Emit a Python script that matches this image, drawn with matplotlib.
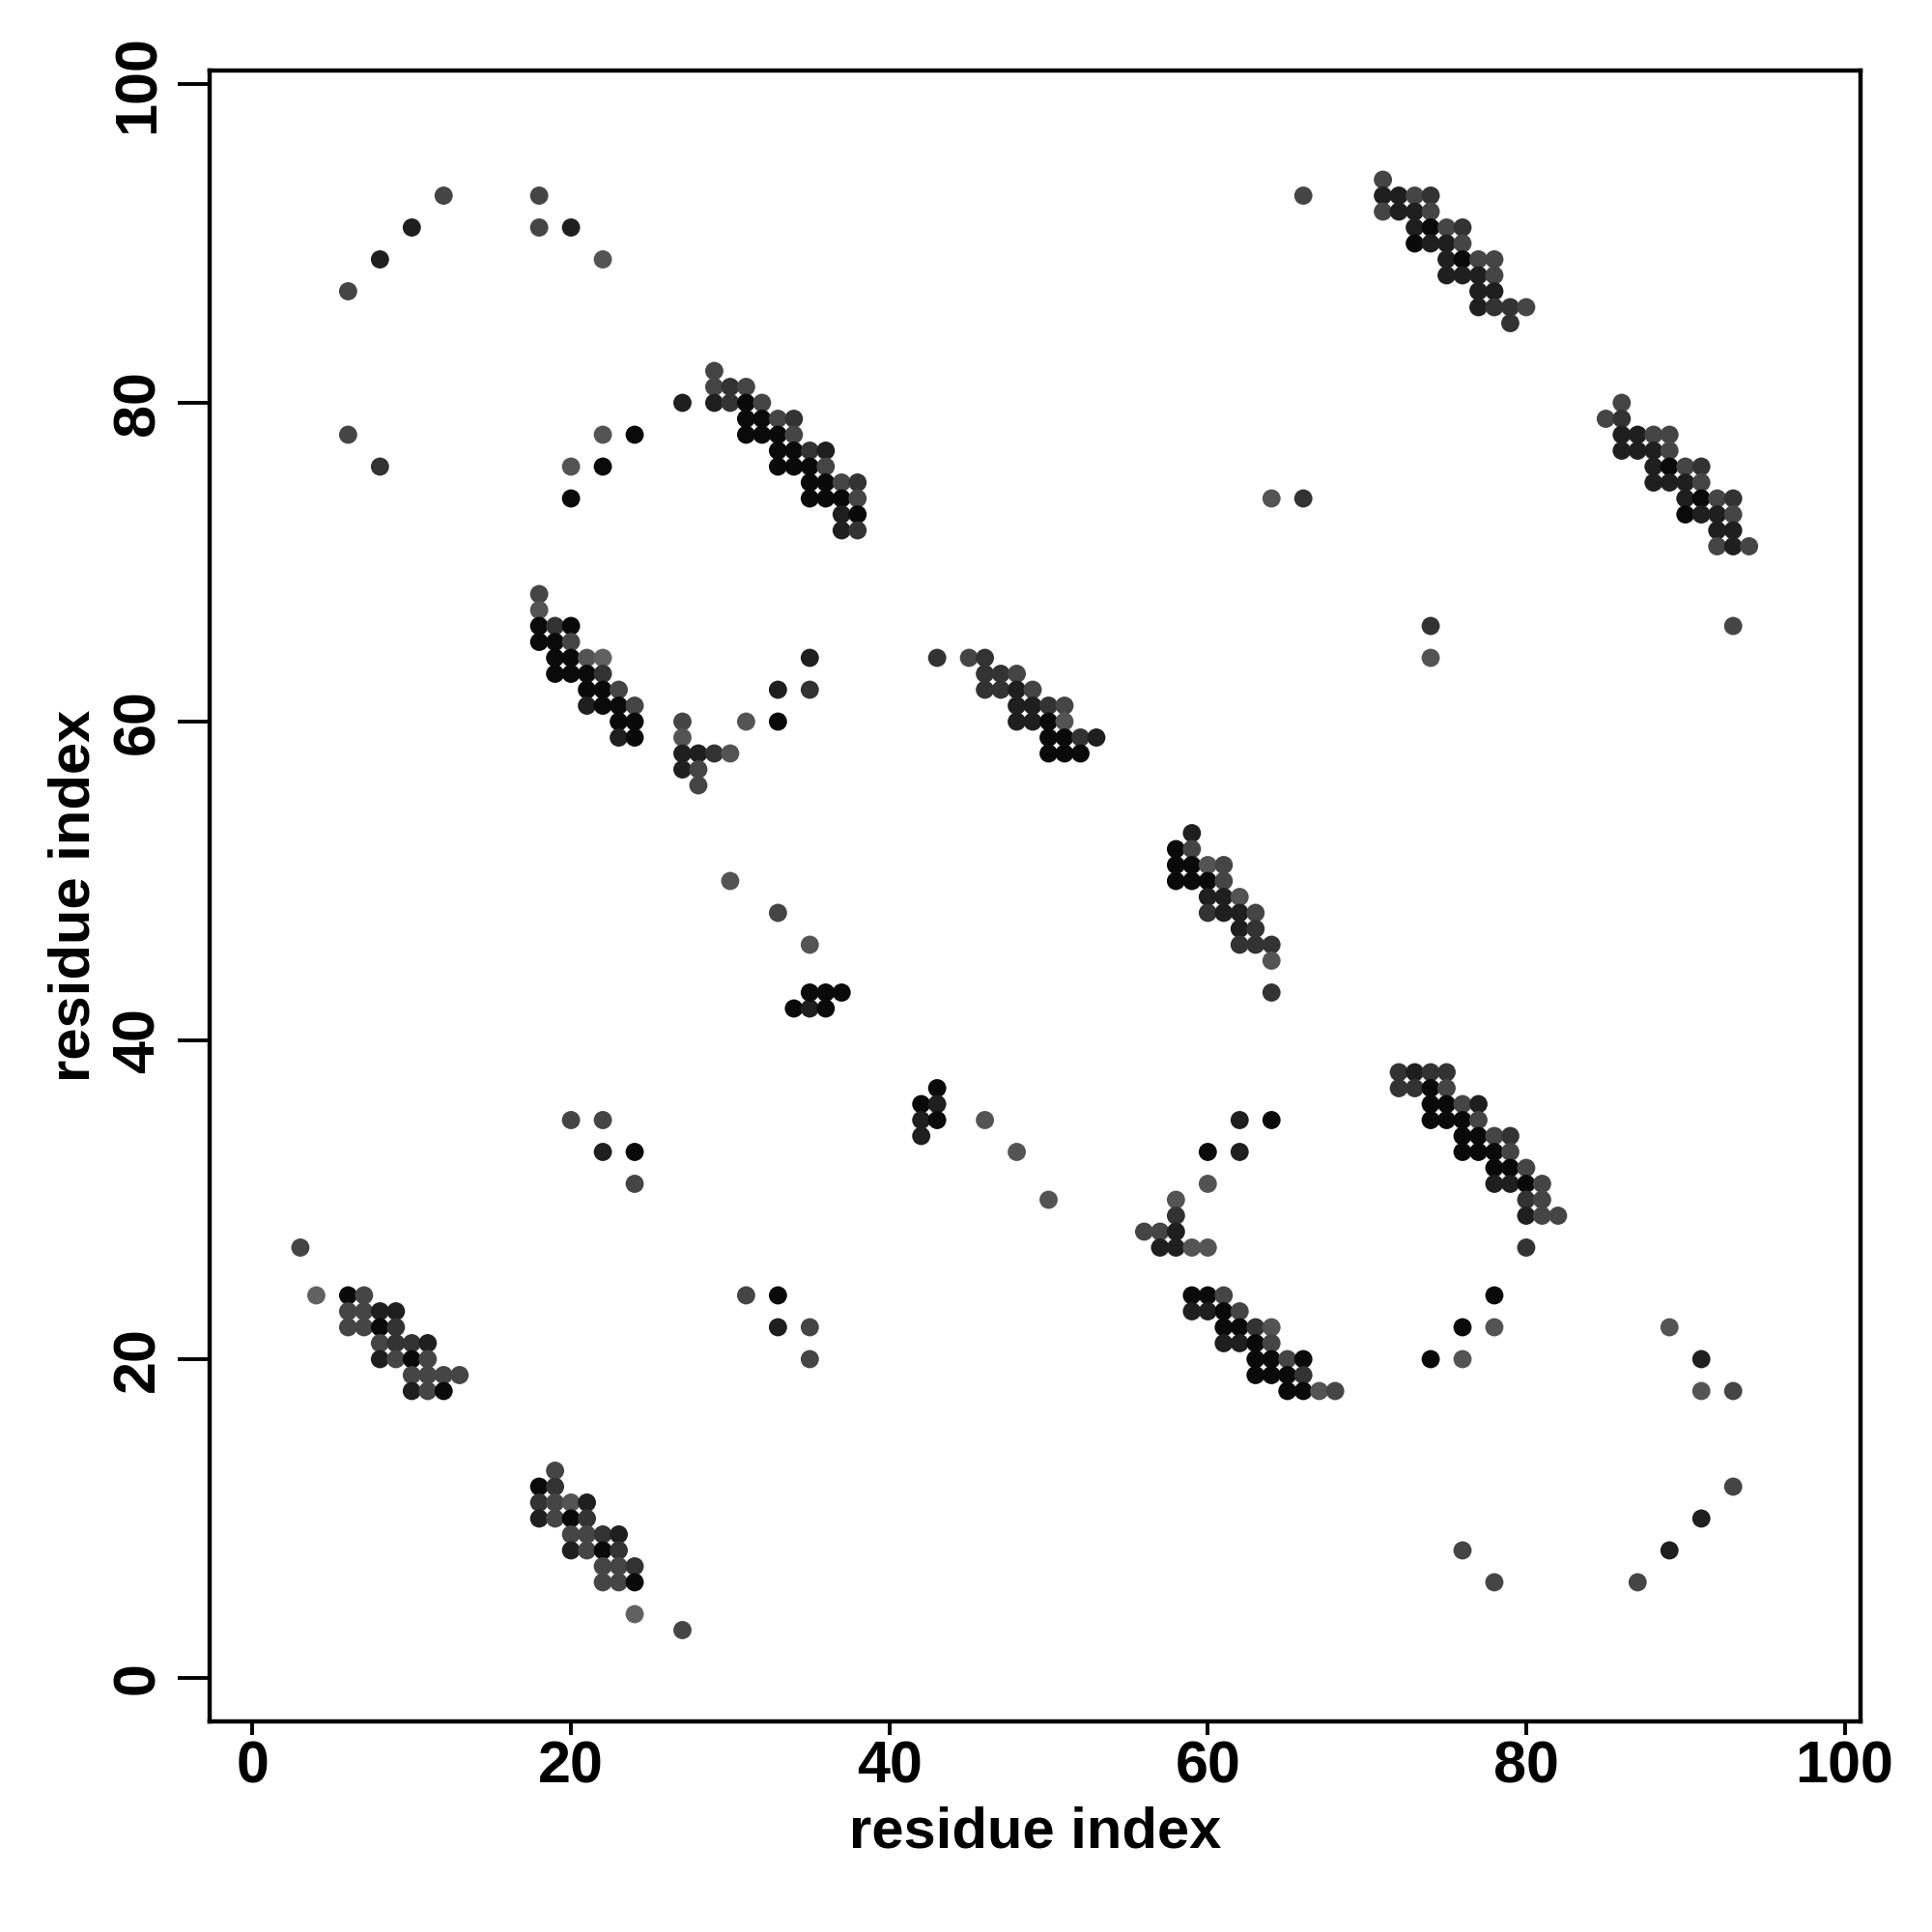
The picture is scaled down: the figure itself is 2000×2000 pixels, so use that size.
import matplotlib
matplotlib.use("Agg")
import matplotlib.pyplot as plt
import numpy as np

# shade codes -> gray level (0 = black)
SHADE = {"k": 0.04, "d": 0.12, "dm": 0.20, "m": 0.27, "ml": 0.33, "l": 0.38}

cluster_a = [(3,27,"m"),(4,24,"l"),(6,24,"k"),(7,24,"m"),(6,23,"m"),(7,23,"m"),(8,23,"d"),(9,23,"d"),
             (6,22,"m"),(7,22,"m"),(8,22,"k"),(9,22,"dm"),(8,21,"m"),(9,21,"dm"),(10,21,"dm"),(11,21,"d"),
             (8,20,"d"),(9,20,"m"),(10,20,"k"),(11,20,"m"),(10,19,"m"),(11,19,"m"),(12,19,"m"),(13,19,"m"),
             (10,18,"d"),(11,18,"m"),(12,18,"k")]
cluster_b = [(19,13,"m"),(18,12,"k"),(19,12,"dm"),(18,11,"dm"),(19,11,"m"),(20,11,"ml"),(21,11,"d"),
             (18,10,"d"),(19,10,"m"),(20,10,"k"),(21,10,"dm"),(20,9,"m"),(21,9,"m"),(22,9,"dm"),(23,9,"d"),
             (20,8,"d"),(21,8,"m"),(22,8,"k"),(23,8,"dm"),(22,7,"m"),(23,7,"m"),(24,7,"dm"),
             (22,6,"m"),(23,6,"m"),(24,6,"k"),(24,4,"l"),(27,3,"m")]
cluster_c = [(18,68,"m"),(18,67,"ml"),(18,66,"k"),(19,66,"dm"),(20,66,"k"),(18,65,"k"),(19,65,"k"),(20,65,"m"),
             (19,64,"k"),(20,64,"k"),(21,64,"ml"),(22,64,"l"),(19,63,"k"),(20,63,"k"),(21,63,"k"),(22,63,"dm"),
             (21,62,"k"),(22,62,"k"),(23,62,"m"),(21,61,"d"),(22,61,"k"),(23,61,"k"),(24,61,"m"),
             (23,60,"k"),(24,60,"k"),(23,59,"d"),(24,59,"k")]
cluster_d = [(27,60,"m"),(27,59,"ml"),(27,58,"d"),(28,58,"d"),(29,58,"dm"),(30,58,"ml"),(27,57,"d"),(28,57,"m"),
             (28,56,"m"),(31,60,"ml"),(33,60,"k"),(33,62,"d"),(35,62,"dm"),(35,64,"d")]
cluster_e = [(29,82,"m"),(29,81,"m"),(30,81,"dm"),(31,81,"m"),(27,80,"d"),(29,80,"d"),(30,80,"dm"),(31,80,"k"),
             (32,80,"m"),(31,79,"k"),(32,79,"k"),(33,79,"m"),(34,79,"dm"),(31,78,"k"),(32,78,"k"),(33,78,"k"),
             (34,78,"m"),(33,77,"k"),(34,77,"k"),(35,77,"dm"),(36,77,"d"),(33,76,"k"),(34,76,"k"),(35,76,"k"),
             (36,76,"m"),(35,75,"k"),(36,75,"k"),(37,75,"m"),(38,75,"dm"),(35,74,"k"),(36,74,"k"),(37,74,"k"),
             (38,74,"m"),(37,73,"d"),(38,73,"k"),(37,72,"d"),(38,72,"dm")]
cluster_f = [(71,94,"m"),(71,93,"d"),(72,93,"d"),(73,93,"m"),(74,93,"dm"),(71,92,"m"),(72,92,"d"),(73,92,"d"),
             (74,92,"m"),(73,91,"d"),(74,91,"k"),(75,91,"m"),(76,91,"dm"),(73,90,"k"),(74,90,"d"),(75,90,"d"),
             (76,90,"m"),(75,89,"d"),(76,89,"k"),(77,89,"m"),(78,89,"m"),(75,88,"d"),(76,88,"d"),(77,88,"d"),
             (78,88,"m"),(77,87,"d"),(78,87,"d"),(77,86,"d"),(78,86,"dm"),(79,86,"dm"),(80,86,"m"),(79,85,"dm")]
cluster_g = [(86,80,"m"),(85,79,"m"),(86,79,"dm"),(86,78,"d"),(87,78,"d"),(88,78,"m"),(89,78,"m"),(86,77,"d"),
             (87,77,"d"),(88,77,"d"),(89,77,"m"),(88,76,"d"),(89,76,"k"),(90,76,"m"),(91,76,"dm"),(88,75,"d"),
             (89,75,"d"),(90,75,"d"),(91,75,"m"),(90,74,"d"),(91,74,"k"),(92,74,"m"),(93,74,"dm"),(90,73,"k"),
             (91,73,"d"),(92,73,"d"),(93,73,"m"),(92,72,"d"),(93,72,"d"),(92,71,"m"),(93,71,"d"),(94,71,"m")]
cluster_h = [(58,30,"ml"),(58,29,"dm"),(56,28,"m"),(57,28,"m"),(58,28,"d"),(57,27,"d"),(58,27,"d"),(59,27,"ml"),
             (60,27,"ml"),(59,24,"k"),(60,24,"k"),(61,24,"m"),(59,23,"d"),(60,23,"d"),(61,23,"k"),(62,23,"m"),
             (61,22,"k"),(62,22,"k"),(63,22,"dm"),(64,22,"ml"),(61,21,"d"),(62,21,"d"),(63,21,"k"),(64,21,"m"),
             (63,20,"k"),(64,20,"k"),(65,20,"m"),(66,20,"k"),(63,19,"k"),(64,19,"k"),(65,19,"k"),(66,19,"dm"),
             (65,18,"k"),(66,18,"k"),(67,18,"ml"),(68,18,"m"),
             (60,31,"ml"),(60,33,"k"),(62,33,"d"),(62,35,"d"),(64,35,"k")]
cluster_i = [(72,38,"dm"),(73,38,"d"),(74,38,"dm"),(75,38,"dm"),(72,37,"dm"),(73,37,"dm"),(74,37,"k"),(75,37,"m"),
             (74,36,"k"),(75,36,"k"),(76,36,"m"),(77,36,"d"),(74,35,"k"),(75,35,"k"),(76,35,"k"),(77,35,"m"),
             (76,34,"k"),(77,34,"k"),(78,34,"m"),(79,34,"dm"),(76,33,"k"),(77,33,"k"),(78,33,"k"),(79,33,"m"),
             (78,32,"k"),(79,32,"k"),(80,32,"m"),(78,31,"d"),(79,31,"d"),(80,31,"k"),(81,31,"m"),
             (80,30,"dm"),(81,30,"m"),(80,29,"d"),(81,29,"m"),(82,29,"m"),(80,27,"dm")]
cluster_j = [(59,53,"d"),(58,52,"k"),(59,52,"m"),(58,51,"k"),(59,51,"k"),(60,51,"ml"),(61,51,"m"),(58,50,"k"),
             (59,50,"k"),(60,50,"k"),(61,50,"m"),(60,49,"d"),(61,49,"d"),(62,49,"ml"),(60,48,"dm"),(61,48,"d"),
             (62,48,"d"),(63,48,"m"),(62,47,"d"),(63,47,"dm"),(62,46,"dm"),(63,46,"dm"),(64,46,"dm"),
             (64,45,"ml"),(64,43,"dm")]
cluster_k = [(43,64,"dm"),(45,64,"m"),(46,64,"dm"),(46,63,"dm"),(47,63,"dm"),(48,63,"m"),(46,62,"dm"),(47,62,"dm"),
             (48,62,"d"),(49,62,"m"),(48,61,"d"),(49,61,"d"),(50,61,"dm"),(51,61,"m"),(48,60,"d"),(49,60,"d"),
             (50,60,"k"),(51,60,"ml"),(50,59,"k"),(51,59,"k"),(52,59,"dm"),(53,59,"d"),(50,58,"k"),(51,58,"k"),
             (52,58,"k")]
sparse = [(6,87,"m"),(8,89,"d"),(10,91,"d"),(12,93,"m"),(18,93,"m"),(18,91,"m"),(20,91,"d"),(22,89,"ml"),
          (6,78,"m"),(8,76,"dm"),(20,76,"ml"),(22,76,"k"),(22,78,"ml"),(24,78,"k"),(20,74,"k"),
          (30,50,"ml"),(33,48,"m"),(35,46,"ml"),(34,42,"k"),(35,42,"d"),(36,42,"k"),(35,43,"k"),(36,43,"k"),
          (37,43,"k"),(42,36,"k"),(42,35,"d"),(42,34,"d"),(43,37,"k"),(43,36,"d"),(43,35,"k"),
          (46,35,"ml"),(48,33,"ml"),(50,30,"ml"),
          (20,35,"m"),(22,35,"m"),(22,33,"d"),(24,33,"k"),(24,31,"m"),(31,24,"m"),(33,24,"k"),(33,22,"d"),
          (35,22,"m"),(35,20,"m"),
          (66,93,"m"),(64,74,"ml"),(66,74,"dm"),(74,66,"dm"),(74,64,"ml"),(93,66,"m"),
          (74,20,"k"),(76,22,"k"),(76,20,"ml"),(78,24,"k"),(78,22,"ml"),
          (89,22,"ml"),(91,20,"d"),(91,18,"ml"),(93,18,"m"),(93,12,"m"),(91,10,"d"),(89,8,"d"),(87,6,"m"),
          (76,8,"m"),(78,6,"m")]

ticks = [0, 20, 40, 60, 80, 100]
axis_label = "residue index"

all_pts = (cluster_a + cluster_b + cluster_c + cluster_d + cluster_e + cluster_f +
           cluster_g + cluster_h + cluster_i + cluster_j + cluster_k + sparse)
xs = np.array([p[0] for p in all_pts], dtype=float)
ys = np.array([p[1] for p in all_pts], dtype=float)
cols = [(SHADE[p[2]],) * 3 for p in all_pts]

plt.rcParams['font.family'] = ['Liberation Sans', 'DejaVu Sans']
fig = plt.figure(figsize=(10, 10), dpi=200)
ax = fig.add_axes([0.1085, 0.109, 0.8545, 0.8545])
ax.scatter(xs, ys, s=46, c=cols, linewidths=0, zorder=3)

ax.set_xlim(-2.7, 101.0)
ax.set_ylim(-2.73, 100.85)
ax.set_xticks(ticks)
ax.set_yticks(ticks)
ax.set_xticklabels([str(t) for t in ticks], fontsize=22, fontweight='bold')
ax.set_yticklabels([str(t) for t in ticks], fontsize=22, fontweight='bold',
                   rotation=90, va='center')
ax.tick_params(axis='x', direction='out', length=5, width=1.4, pad=2)
ax.tick_params(axis='y', direction='out', length=12, width=1.4, pad=4)
for sp in ax.spines.values():
    sp.set_linewidth(1.6)
ax.set_xlabel(axis_label, fontsize=21.5, fontweight='bold', labelpad=4)
ax.set_ylabel(axis_label, fontsize=21.5, fontweight='bold', labelpad=4)

fig.savefig("out.png", dpi=200, facecolor='white')
